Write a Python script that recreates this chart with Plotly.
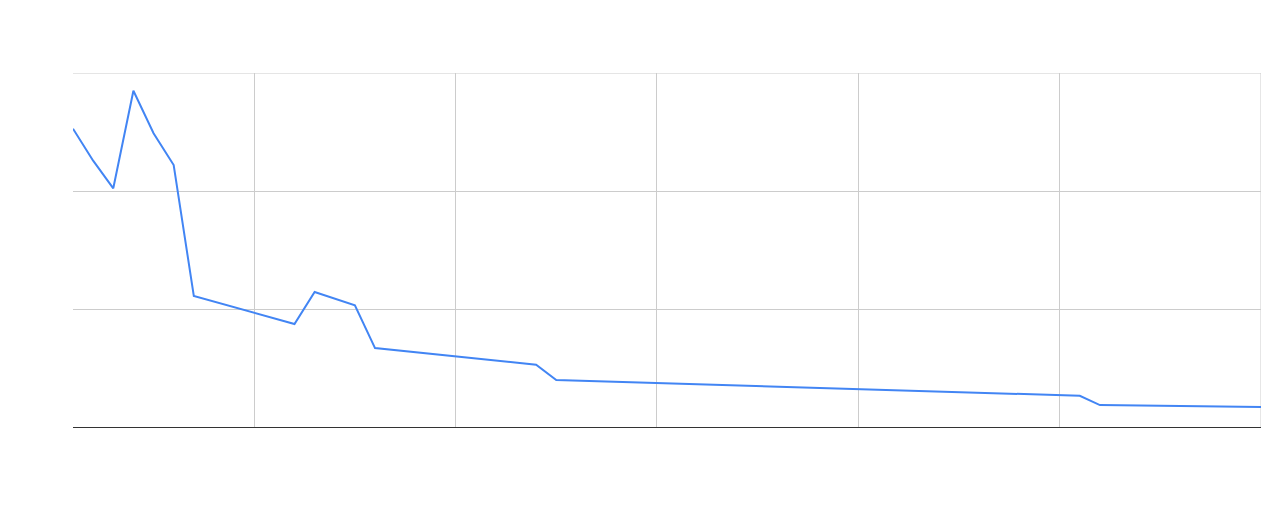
import plotly.graph_objects as go

x_vals = [1, 2, 3, 4, 5, 6, 7, 12, 13, 15, 16, 24, 25, 51, 52, 60]
y_vals = [2.528, 2.257, 2.023, 2.850, 2.489, 2.220, 1.110, 0.873, 1.144, 1.031,
          0.669, 0.528, 0.398, 0.265, 0.186, 0.169]

x_max = 60
y_max = 3
grid_color = "#cccccc"

fig = go.Figure()
fig.add_trace(go.Scatter(x=x_vals, y=y_vals, mode="lines",
                         line=dict(color="#4285F4", width=2), hoverinfo="skip"))

# edge gridlines that plotly omits at the range boundaries
fig.add_shape(type="line", xref="x domain", yref="y", x0=0, x1=1, y0=y_max, y1=y_max,
              line=dict(color=grid_color, width=1), layer="below")
fig.add_shape(type="line", xref="x", yref="y domain", x0=x_max, x1=x_max, y0=0, y1=1,
              line=dict(color=grid_color, width=1), layer="below")

fig.update_layout(
    width=1287, height=505,
    margin=dict(l=65, r=34, t=65, b=86),
    paper_bgcolor="white", plot_bgcolor="white",
    showlegend=False,
    xaxis=dict(range=[1, x_max], tick0=0, dtick=10, showticklabels=False,
               showgrid=True, gridcolor=grid_color, gridwidth=1,
               zeroline=False, showline=True, linecolor="#333333", linewidth=1,
               ticks=""),
    yaxis=dict(range=[0, y_max], tick0=0, dtick=1, showticklabels=False,
               showgrid=True, gridcolor=grid_color, gridwidth=1,
               zeroline=False, showline=False, ticks=""),
)

fig.write_html("out.html")
